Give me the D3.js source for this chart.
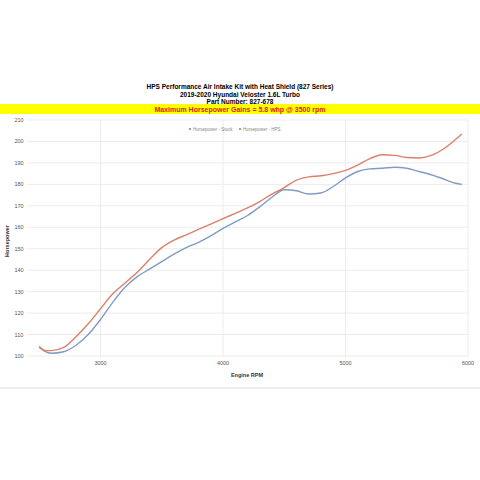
<!DOCTYPE html><html><head><script src="https://cdn.jsdelivr.net/npm/d3@7"></script>
<style>body{margin:0;background:#fff}text{font-family:"Liberation Sans",Arial,sans-serif}</style></head><body><svg width="480" height="480"></svg><script>
const titles=["HPS Performance Air Intake Kit with Heat Shield (827 Series)","2019-2020 Hyundai Veloster 1.6L Turbo","Part Number: 827-678"];
const banner="Maximum Horsepower Gains = 5.8 whp @ 3500 rpm";
const rpm=[2500,2550,2600,2700,2800,2900,3000,3100,3200,3300,3400,3500,3600,3700,3800,3900,4000,4100,4200,4300,4400,4500,4600,4700,4800,4900,5000,5100,5200,5300,5400,5500,5600,5700,5800,5900,5950];
const stock=[104.5,102,101.3,102,105,110,117,125,132,137,140.5,144,147.5,150.5,153,156,159.5,162.5,165.5,169.5,174,177.5,177,175.5,176,179,183,186,187.2,187.5,188,187.5,186,184.5,182.5,180.5,180];
const hps=[104,102.5,102.5,104,109,115,122,129,134,139,145,150.5,154,156.5,159,161.5,164,166.5,169,172,175.5,178.5,182,183.5,184,185,186.5,189,192,193.8,193.5,192.5,192.3,193.5,196.5,201,203.5];
const xTicks=[3000,4000,5000,6000], yTicks=d3.range(100,211,10);
const svg=d3.select("svg");
const x=d3.scaleLinear().domain([2400,6000]).range([27,468]);
const y=d3.scaleLinear().domain([100,210]).range([356,120]);
titles.forEach((t,i)=>svg.append("text").attr("x",240).attr("y",89+i*7.5).attr("text-anchor","middle").attr("font-size",6.5).attr("font-weight","bold").text(t));
svg.append("rect").attr("x",0).attr("y",104).attr("width",480).attr("height",10).attr("fill","#ffff00");
svg.append("text").attr("x",240).attr("y",112).attr("text-anchor","middle").attr("font-size",7).attr("font-weight","bold").attr("fill","#e0201a").text(banner);
svg.append("g").selectAll("line").data(yTicks).join("line").attr("x1",27).attr("x2",468).attr("y1",d=>y(d)).attr("y2",d=>y(d)).attr("stroke","#ececec");
svg.append("g").selectAll("line").data(xTicks).join("line").attr("y1",120).attr("y2",356).attr("x1",d=>x(d)).attr("x2",d=>x(d)).attr("stroke","#ececec");
svg.append("g").selectAll("text").data(yTicks).join("text").attr("x",19).attr("y",d=>y(d)+2).attr("text-anchor","middle").attr("font-size",5.5).attr("fill","#555").text(d=>d);
svg.append("g").selectAll("text").data(xTicks).join("text").attr("x",d=>x(d)).attr("y",365).attr("text-anchor","middle").attr("font-size",5.5).attr("fill","#555").text(d=>d);
svg.append("text").attr("x",247).attr("y",377).attr("text-anchor","middle").attr("font-size",5.5).attr("font-weight","bold").attr("fill","#333").text("Engine RPM");
svg.append("text").attr("transform","translate(9,241) rotate(-90)").attr("text-anchor","middle").attr("font-size",5.5).attr("font-weight","bold").attr("fill","#333").text("Horsepower");
const line=d3.line().x((d,i)=>x(rpm[i])).y(d=>y(d)).curve(d3.curveMonotoneX);
svg.append("path").attr("d",line(stock)).attr("fill","none").attr("stroke","#7f9bc7").attr("stroke-width",1.4);
svg.append("path").attr("d",line(hps)).attr("fill","none").attr("stroke","#d9816a").attr("stroke-width",1.4);
const lg=[["Horsepower - Stock","#5b7fc0",190],["Horsepower - HPS","#d9604a",240]];
lg.forEach(([t,c,lx])=>{svg.append("circle").attr("cx",lx).attr("cy",129).attr("r",1).attr("fill",c);
svg.append("text").attr("x",lx+3).attr("y",131).attr("font-size",4.5).attr("fill","#888").text(t);});
svg.append("line").attr("x1",0).attr("x2",480).attr("y1",388).attr("y2",388).attr("stroke","#eee").attr("stroke-width",2);
</script></body></html>
